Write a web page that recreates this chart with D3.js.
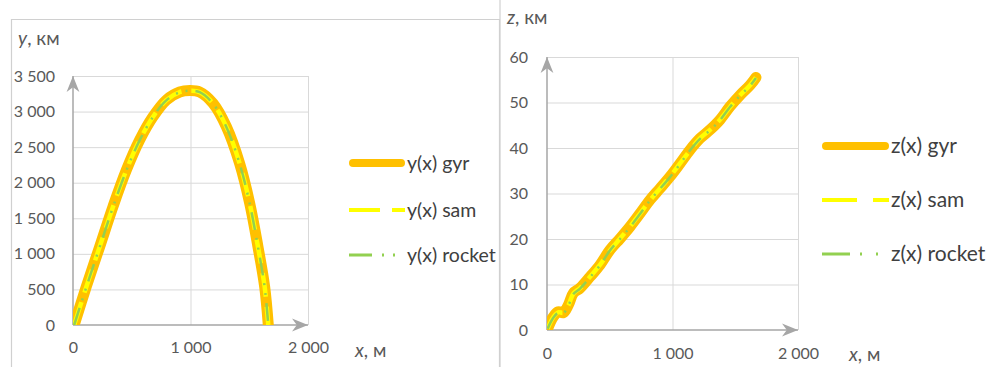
<!DOCTYPE html>
<html><head><meta charset="utf-8">
<script src="https://cdn.jsdelivr.net/npm/d3@7"></script>
<style>body{margin:0;background:#fff;} svg{display:block;font-family:Lato, "Open Sans", sans-serif;}</style>
</head><body>
<svg id="c" width="994" height="367"></svg>
<script>
// ---- data ----
const xTicks = [0, 1000, 2000];
const xTickLabels = ["0", "1 000", "2 000"];
const yTicks = [0, 500, 1000, 1500, 2000, 2500, 3000, 3500];
const yTickLabels = ["0", "500", "1 000", "1 500", "2 000", "2 500", "3 000", "3 500"];
const zTicks = [0, 10, 20, 30, 40, 50, 60];
const zTickLabels = ["0", "10", "20", "30", "40", "50", "60"];

const yX = [10, 113, 227, 340, 454, 567, 681, 794, 908, 993, 1078, 1191, 1305, 1418, 1504, 1574, 1631, 1662];
const yGyr = [0, 539, 1101, 1663, 2178, 2600, 2928, 3162, 3275, 3295, 3275, 3116, 2788, 2272, 1710, 1101, 539, 0];
const ySam = [0, 535, 1100, 1660, 2175, 2598, 2926, 3160, 3274, 3294, 3274, 3114, 2786, 2270, 1708, 1100, 537, 0];
const yRocket = [0, 530, 1095, 1655, 2170, 2595, 2925, 3158, 3272, 3292, 3272, 3112, 2784, 2268, 1706, 1098, 535, 0];

const zX = [5, 50, 90, 130, 170, 210, 263, 343, 422, 502, 582, 661, 741, 821, 900, 980, 1060, 1140, 1219, 1299, 1378, 1458, 1538, 1618, 1665];
const zGyr = [0.3, 2.9, 4.0, 3.8, 5.5, 8.1, 9.2, 11.7, 14.3, 17.6, 20.1, 22.7, 25.6, 28.6, 31.1, 33.7, 36.6, 39.6, 42.1, 44.0, 46.2, 49.1, 51.6, 53.8, 55.5];
const zSam = [0.3, 2.8, 3.9, 3.8, 5.4, 8.0, 9.2, 11.7, 14.3, 17.5, 20.1, 22.7, 25.6, 28.5, 31.1, 33.7, 36.6, 39.5, 42.1, 44.0, 46.2, 49.0, 51.6, 53.8, 55.5];
const zRocket = [0.3, 2.7, 3.8, 3.7, 5.3, 7.9, 9.1, 11.6, 14.2, 17.5, 20.0, 22.6, 25.5, 28.5, 31.0, 33.6, 36.5, 39.5, 42.0, 43.9, 46.1, 49.0, 51.5, 53.7, 55.4];

const leftLegend = ["y(x) gyr", "y(x) sam", "y(x) rocket"];
const rightLegend = ["z(x) gyr", "z(x) sam", "z(x) rocket"];

// ---- styles ----
const styles = [
  {color: "#FFC000", width: 11, dash: null, lw: 8, cap: "round"},
  {color: "#FFFF00", width: 4.5, dash: "24,10", lw: 4, cap: "butt"},
  {color: "#92D050", width: 2.5, dash: "18,8,2,8,2,8", lw: 3, cap: "butt"}
];
const gridColor = "#d9d9d9", axisColor = "#a6a6a6", tickColor = "#595959";

const svg = d3.select("#c");

// panel borders
svg.append("path").attr("d", "M11.5,367 V19.5 H499.5 V367").attr("fill", "none").attr("stroke", "#d0d0d0").attr("stroke-width", 1.2);
svg.append("line").attr("x1", 500).attr("x2", 500).attr("y1", 0).attr("y2", 367).attr("stroke", "#d0d0d0").attr("stroke-width", 1.2);

const defs = svg.append("defs");
defs.append("marker").attr("id", "arr").attr("viewBox", "0 0 10 10").attr("refX", 10).attr("refY", 5)
  .attr("markerWidth", 16).attr("markerHeight", 16).attr("markerUnits", "userSpaceOnUse").attr("orient", "auto")
  .append("path").attr("d", "M0,1 L10,5 L0,9 L3,5 Z").attr("fill", axisColor);

function chart(cfg) {
  const x = d3.scaleLinear().domain([0, 2000]).range([cfg.x0, cfg.x1]);
  const y = d3.scaleLinear().domain(cfg.yDomain).range([cfg.y0, cfg.y1]);
  const g = svg.append("g");
  defs.append("clipPath").attr("id", cfg.id).append("rect")
    .attr("x", cfg.x0).attr("y", cfg.y1 - 40).attr("width", cfg.x1 - cfg.x0 + 40).attr("height", cfg.y0 - cfg.y1 + 40);
  // grid
  g.append("g").attr("transform", `translate(0,${cfg.y0})`)
    .call(d3.axisBottom(x).tickValues(xTicks.slice(1)).tickSize(-(cfg.y0 - cfg.y1)).tickFormat(""))
    .call(s => { s.select(".domain").remove(); s.selectAll("line").attr("stroke", gridColor); });
  g.append("g").attr("transform", `translate(${cfg.x0},0)`)
    .call(d3.axisLeft(y).tickValues(cfg.yTicks.slice(1)).tickSize(-(cfg.x1 - cfg.x0)).tickFormat(""))
    .call(s => { s.select(".domain").remove(); s.selectAll("line").attr("stroke", gridColor); });
  // tick labels
  g.append("g").attr("transform", `translate(0,${cfg.y0})`)
    .call(d3.axisBottom(x).tickValues(xTicks).tickSize(0).tickPadding(cfg.xPad).tickFormat((d, i) => xTickLabels[i]))
    .call(s => { s.select(".domain").remove(); s.selectAll("text").attr("fill", tickColor).style("font-size", "16px").attr("font-family", "Lato, sans-serif"); });
  g.append("g").attr("transform", `translate(${cfg.x0},0)`)
    .call(d3.axisLeft(y).tickValues(cfg.yTicks).tickSize(0).tickPadding(cfg.yPad).tickFormat((d, i) => cfg.yLabels[i]))
    .call(s => { s.select(".domain").remove(); s.selectAll("text").attr("fill", tickColor).style("font-size", "16px").attr("font-family", "Lato, sans-serif"); });
  // axes arrows
  g.append("line").attr("x1", cfg.x0).attr("x2", cfg.x1).attr("y1", cfg.y0).attr("y2", cfg.y0)
    .attr("stroke", axisColor).attr("stroke-width", 1.5).attr("marker-end", "url(#arr)");
  g.append("line").attr("x1", cfg.x0).attr("x2", cfg.x0).attr("y1", cfg.y0).attr("y2", cfg.y1)
    .attr("stroke", axisColor).attr("stroke-width", 1.5).attr("marker-end", "url(#arr)");
  // series
  const line = d3.line().x(d => x(d[0])).y(d => y(d[1])).curve(d3.curveCatmullRom.alpha(0.5));
  const sg = g.append("g").attr("clip-path", `url(#${cfg.id})`);
  cfg.series.forEach((vals, i) => {
    const st = styles[i];
    sg.append("path").datum(cfg.xs.map((v, j) => [v, vals[j]]))
      .attr("d", line).attr("fill", "none").attr("stroke", st.color).attr("stroke-width", st.width)
      .attr("stroke-linecap", st.cap).attr("stroke-linejoin", "round")
      .attr("stroke-dasharray", st.dash);
  });
  // axis titles
  const t1 = g.append("text").attr("x", cfg.yt[0]).attr("y", cfg.yt[1]).attr("fill", tickColor).style("font-size", "19px");
  t1.append("tspan").attr("font-style", "italic").text(cfg.yName);
  t1.append("tspan").text(", км");
  const t2 = g.append("text").attr("x", cfg.xt[0]).attr("y", cfg.xt[1]).attr("fill", tickColor).style("font-size", "19px");
  t2.append("tspan").attr("font-style", "italic").text("x");
  t2.append("tspan").text(", м");
  // legend
  cfg.legend.forEach((name, i) => {
    const st = styles[i];
    const ly = cfg.lg.ys[i];
    const inset = st.cap === "round" ? st.lw / 2 : 0;
    g.append("line").attr("x1", cfg.lg.x0 + inset).attr("x2", cfg.lg.x1 - inset)
      .attr("y1", ly).attr("y2", ly).attr("stroke", st.color).attr("stroke-width", st.lw)
      .attr("stroke-linecap", st.cap).attr("stroke-dasharray", cfg.lg.dashes[i]);
    g.append("text").attr("x", cfg.lg.tx).attr("y", ly).attr("dy", "0.35em").attr("fill", "#404040")
      .style("font-size", cfg.lg.fs + "px").text(name);
  });
}

chart({
  id: "clipL",
  x0: 73, x1: 308, y0: 325, y1: 76, yDomain: [0, 3500], yTicks: yTicks, yLabels: yTickLabels,
  xPad: 17, yPad: 18,
  xs: yX, series: [yGyr, ySam, yRocket], yName: "y",
  yt: [18, 45], xt: [355, 357],
  legend: leftLegend,
  lg: {x0: 349, x1: 405, tx: 407, ys: [163, 210, 255], fs: 19.5,
       dashes: [null, "31,12,13", "23,10,2,9,2,20"]}
});
chart({
  id: "clipR",
  x0: 547, x1: 798, y0: 330, y1: 57, yDomain: [0, 60], yTicks: zTicks, yLabels: zTickLabels,
  xPad: 18, yPad: 19,
  xs: zX, series: [zGyr, zSam, zRocket], yName: "z",
  yt: [507, 24], xt: [849, 361],
  legend: rightLegend,
  lg: {x0: 822, x1: 889, tx: 891, ys: [146, 200, 254], fs: 21,
       dashes: [null, "35,16,16", "28,10,2,14,2,20"]}
});
</script>
</body></html>
